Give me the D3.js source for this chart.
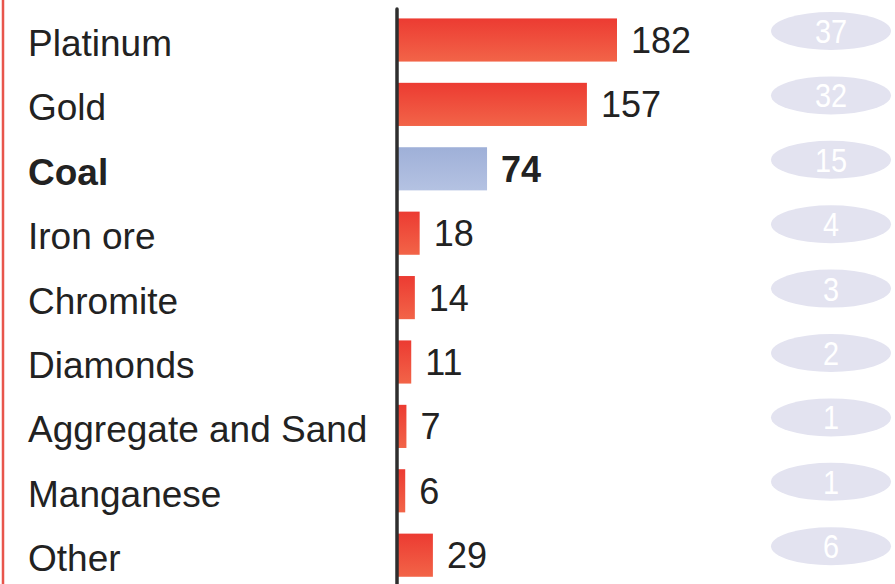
<!DOCTYPE html>
<html>
<head>
<meta charset="utf-8">
<script src="https://cdn.jsdelivr.net/npm/d3@7"></script>
<style>
  body { margin: 0; background: #fff; }
  svg { display: block; font-family: "Liberation Sans", Arial, sans-serif; }
</style>
</head>
<body>
<svg id="chart" width="895" height="584"></svg>
<script>
/** Categories (top to bottom) */
var minerals = ['Platinum', 'Gold', 'Coal', 'Iron ore', 'Chromite', 'Diamonds',
                'Aggregate and Sand', 'Manganese', 'Other'];

/** Bar values */
var values = [182, 157, 74, 18, 14, 11, 7, 6, 29];

/** Numbers shown in the ovals on the right */
var shares = [37, 32, 15, 4, 3, 2, 1, 1, 6];

/** Highlighted category */
var highlight = 'Coal';

var width = 895,
    height = 584,
    axisX = 397,
    ovalX = 831;

var svg = d3.select('#chart');

var rows = minerals.map(function (m, i) {
    return {name: m, value: values[i], share: shares[i]};
});

// scales
var y = d3.scaleBand()
    .domain(minerals)
    .range([7.8, 587.4])
    .paddingInner(0.33)
    .paddingOuter(0.165);

var x = d3.scaleLinear()
    .domain([0, d3.max(values)])
    .range([axisX + 1, 617]);

// gradients for bars
var defs = svg.append('defs');
var red = defs.append('linearGradient').attr('id', 'redGrad')
    .attr('x1', 0).attr('y1', 0).attr('x2', 0).attr('y2', 1);
red.append('stop').attr('offset', '0%').attr('stop-color', '#ec3b32');
red.append('stop').attr('offset', '100%').attr('stop-color', '#f26448');

var blue = defs.append('linearGradient').attr('id', 'blueGrad')
    .attr('x1', 0).attr('y1', 0).attr('x2', 0).attr('y2', 1);
blue.append('stop').attr('offset', '0%').attr('stop-color', '#9fb0d8');
blue.append('stop').attr('offset', '100%').attr('stop-color', '#b4c2e2');

// left red border
svg.append('line')
    .attr('x1', 3).attr('x2', 3)
    .attr('y1', 0).attr('y2', height)
    .style('stroke', '#e8554c')
    .style('stroke-width', 2.5);

// category labels
svg.append('g').selectAll('text')
    .data(rows)
    .enter()
    .append('text')
    .attr('x', 28)
    .attr('y', function (d) { return y(d.name) + y.bandwidth() / 2 + 16; })
    .style('font-size', '37px')
    .style('font-weight', function (d) { return d.name == highlight ? 'bold' : 'normal'; })
    .style('fill', '#222')
    .text(function (d) { return d.name; });

// bars
svg.append('g').selectAll('rect')
    .data(rows)
    .enter()
    .append('rect')
    .attr('x', x(0))
    .attr('y', function (d) { return y(d.name); })
    .attr('height', y.bandwidth())
    .attr('width', function (d) { return x(d.value) - x(0); })
    .style('fill', function (d) {
        return d.name == highlight ? 'url(#blueGrad)' : 'url(#redGrad)';
    });

// value labels
svg.append('g').selectAll('text')
    .data(rows)
    .enter()
    .append('text')
    .attr('x', function (d) { return x(d.value) + 14; })
    .attr('y', function (d) { return y(d.name) + y.bandwidth() / 2 + 13; })
    .style('font-size', '36px')
    .style('font-weight', function (d) { return d.name == highlight ? 'bold' : 'normal'; })
    .style('fill', '#222')
    .text(function (d) { return d.value; });

// axis line
svg.append('line')
    .attr('x1', axisX).attr('x2', axisX)
    .attr('y1', 9).attr('y2', height)
    .style('stroke', '#2e2e2e')
    .style('stroke-width', 3.5)
    .style('stroke-linecap', 'round');

// ovals with shares
var ovals = svg.append('g').selectAll('g')
    .data(rows)
    .enter()
    .append('g')
    .attr('transform', function (d) {
        return 'translate(' + ovalX + ',' + (y(d.name) + y.bandwidth() / 2 - 9) + ')';
    });

ovals.append('ellipse')
    .attr('rx', 60)
    .attr('ry', 19)
    .style('fill', '#e3e3f0');

ovals.append('text')
    .attr('text-anchor', 'middle')
    .attr('y', 12)
    .attr('transform', 'scale(0.85,1)')
    .style('font-size', '34px')
    .style('fill', '#ffffff')
    .text(function (d) { return d.share; });
</script>
</body>
</html>
